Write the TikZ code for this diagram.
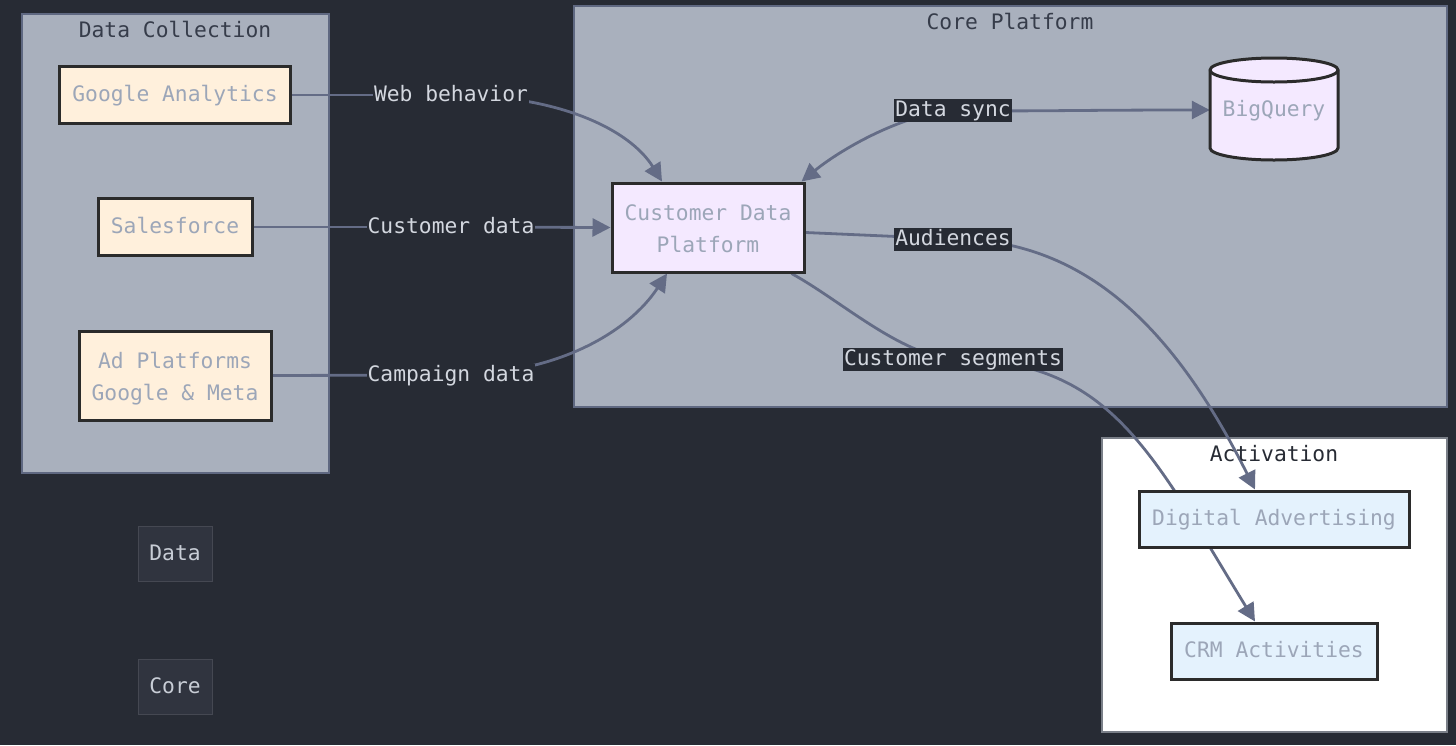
\documentclass[tikz,border=0pt]{standalone}
\usepackage{fontspec}
\setmonofont{DejaVu Sans Mono}
\usetikzlibrary{arrows.meta,calc}
\definecolor{bgc}{HTML}{272B34}
\definecolor{clfill}{HTML}{A9B0BD}
\definecolor{clborder}{HTML}{5F6881}
\definecolor{titletext}{HTML}{363C4A}
\definecolor{nodetext}{HTML}{9CA6B8}
\definecolor{nodeborder}{HTML}{2B2B2B}
\definecolor{peach}{HTML}{FFF0DC}
\definecolor{lav}{HTML}{F4E9FF}
\definecolor{lblue}{HTML}{E4F2FD}
\definecolor{edgec}{HTML}{646C86}
\definecolor{labeltext}{HTML}{D3D7DF}
\definecolor{legfill}{HTML}{30343F}
\definecolor{legtext}{HTML}{C8CDD6}
\definecolor{actborder}{HTML}{7A7F88}
\pgfdeclarelayer{bg}
\pgfdeclarelayer{edges}
\pgfsetlayers{bg,edges,main}
\tikzset{
  box/.style={draw=nodeborder, line width=3pt, text=nodetext, inner sep=0pt, align=center},
  one/.style={text height=17pt, text depth=4pt},
  src/.style={box, fill=peach},
  cdpst/.style={box, fill=lav},
  act/.style={box, one, fill=lblue},
  legend/.style={one, fill=legfill, draw=legfill!90!white, line width=0.6pt, text=legtext, minimum width=74pt, minimum height=55pt, inner sep=0pt},
  elabel/.style={one, fill=bgc, text=labeltext, inner xsep=1pt, inner ysep=1pt},
  edge/.style={draw=edgec, line width=2.8pt},
  arr/.style={edge, -{Triangle[length=18pt,width=18pt]}},
  cluster/.style={fill=clfill, draw=clborder, line width=1.5pt},
  title/.style={text=titletext}
}
\begin{document}
\begin{tikzpicture}[x=1pt,y=-1pt, font=\ttfamily\fontsize{21.3pt}{32pt}\selectfont]
\useasboundingbox (0,0) rectangle (1456,745);
\begin{pgfonlayer}{bg}
\fill[bgc] (0,0) rectangle (1456,745);
\draw[cluster] (22,14) rectangle (329,473);
\draw[cluster] (574,6) rectangle (1447,407);
\draw[fill=white, draw=actborder, line width=1.2pt] (1102,438) rectangle (1447,732);
\end{pgfonlayer}
% cluster titles
\node[title] (tdc) at (175,29) {Data Collection};
\node[title] (tcp) at (1010,21) {Core Platform};
\node[title, text=bgc] (tact) at (1274,454) {Activation};
% nodes
\node[src, one, minimum width=231pt, minimum height=57pt] (ga) at (175,95) {Google Analytics};
\node[src, one, minimum width=154pt, minimum height=57pt] (sf) at (175,227) {Salesforce};
\node[src, minimum width=192pt, minimum height=89pt] (ap) at (175,375.5) {\rule{0pt}{22pt}Ad Platforms\\Google \& Meta};
\node[cdpst, minimum width=192pt, minimum height=89pt] (cdp) at (708,227.5) {\rule{0pt}{18.5pt}Customer Data\\Platform};
\path[fill=lav, draw=nodeborder, line width=3pt] (1210,70) -- (1210,148)
  arc[start angle=180, end angle=360, x radius=64pt, y radius=12pt] -- (1338,70)
  arc[start angle=0, end angle=180, x radius=64pt, y radius=12pt] -- cycle;
\draw[nodeborder, line width=3pt] (1210,70) arc[start angle=180, end angle=360, x radius=64pt, y radius=12pt];
\node[one, text=nodetext, minimum width=128pt, minimum height=102pt, inner sep=0pt] (bq) at (1274,110) {BigQuery};
\node[act, minimum width=270pt, minimum height=56pt] (da) at (1274,519) {Digital Advertising};
\node[act, minimum width=206pt, minimum height=56pt] (crm) at (1274,651) {CRM Activities};
\node[legend] (ldata) at (175,554) {Data};
\node[legend] (lcore) at (175,687) {Core};
% edge labels
\node[elabel] (lweb) at (451,95) {Web behavior};
\node[elabel] (lcust) at (451,227) {Customer data};
\node[elabel] (lcamp) at (451,375) {Campaign data};
\node[elabel] (lsync) at (953,110) {Data sync};
\node[elabel] (laud) at (953,239) {Audiences};
\node[elabel] (lseg) at (953,359) {Customer segments};
% edges
\begin{pgfonlayer}{edges}
\draw[edge] (ga.east) -- (lweb.center);
\draw[arr] (lweb.center) .. controls (560,95) and (630,130) .. ([xshift=-46pt]cdp.north);
\draw[edge] (sf.east) -- (lcust.center);
\draw[arr] (lcust.center) -- (cdp.west);
\draw[edge] (ap.east) -- (lcamp.center);
\draw[arr] (lcamp.center) .. controls (560,375) and (630,330) .. ([xshift=-41pt]cdp.south);
\draw[arr] (lsync.center) .. controls (900,115) and (840,150) .. ([xshift=-4pt]cdp.north east);
\draw[arr] (lsync.center) .. controls (1010,112) and (1060,110) .. (bq.west);
\draw[edge] ([yshift=-5pt]cdp.east) -- (laud.center);
\draw[arr] (laud.center) .. controls (1080,240) and (1170,320) .. ([xshift=-19pt]da.north);
\draw[edge] ([xshift=-14pt]cdp.south east) .. controls (840,300) and (900,355) .. (lseg.center);
\draw[arr] (lseg.center) .. controls (1110,359) and (1150,450) .. ([xshift=-19pt]crm.north);
\end{pgfonlayer}
\end{tikzpicture}
\end{document}
